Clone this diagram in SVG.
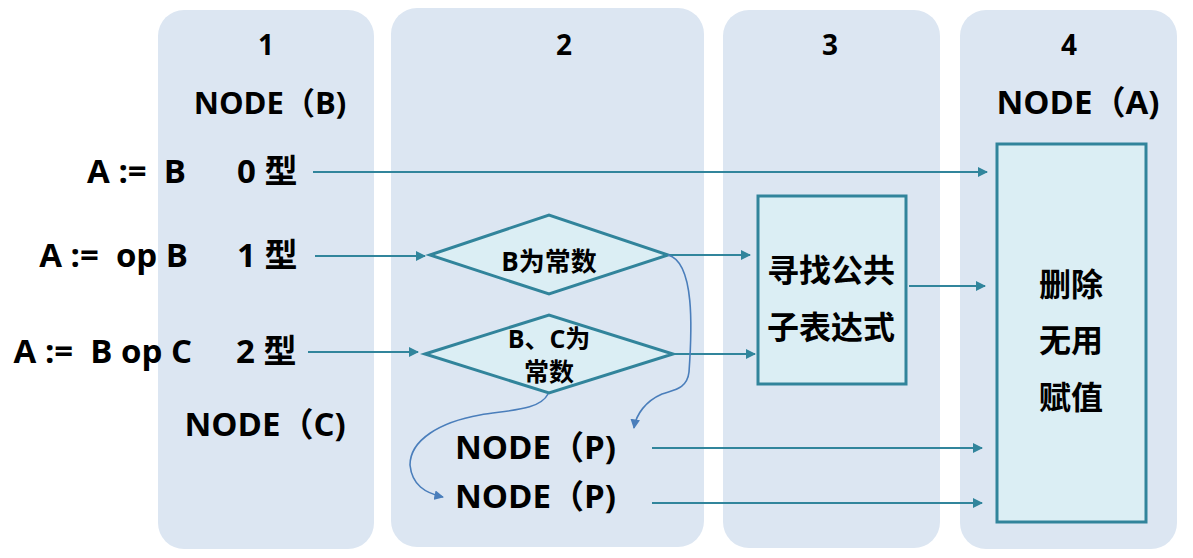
<svg xmlns="http://www.w3.org/2000/svg" width="1193" height="558" viewBox="0 0 1193 558">
<defs>
<style>
.col{fill:#dce6f2;}
.box{fill:#dbeef4;stroke:#31849b;stroke-width:3;}
.t{font-family:"Open Sans","Noto Sans CJK SC",sans-serif;font-weight:bold;fill:#000;white-space:pre;}
.c{text-anchor:middle;}
.e{text-anchor:end;}
.ln{stroke:#31859c;stroke-width:2;fill:none;marker-end:url(#ah);}
.cv{stroke:#4a7ebb;stroke-width:1.6;fill:none;marker-end:url(#ah2);}
</style>
<marker id="ah" viewBox="0 0 10 10" refX="9" refY="5" markerWidth="5" markerHeight="5" orient="auto"><path d="M0,0 L10,5 L0,10 z" fill="#31859c"/></marker>
<marker id="ah2" viewBox="0 0 10 10" refX="9" refY="5" markerWidth="6" markerHeight="6" orient="auto"><path d="M0,0 L10,5 L0,10 z" fill="#4a7ebb"/></marker>
</defs>
<rect width="1193" height="558" fill="#fff"/>
<g id="col1"><rect class="col" x="158" y="10" width="216" height="539" rx="26"/>
<text class="t c" x="266" y="55" font-size="28">1</text>
<text class="t c" x="270" y="114" font-size="31">NODE（B)</text>
<text class="t c" x="265" y="436" font-size="33">NODE（C)</text></g>
<g id="col2"><rect class="col" x="391" y="8" width="313" height="539" rx="26"/>
<text class="t c" x="564" y="55" font-size="28">2</text></g>
<g id="col3"><rect class="col" x="723" y="10" width="217" height="538" rx="26"/>
<text class="t c" x="830" y="55" font-size="28">3</text></g>
<g id="col4"><rect class="col" x="960" y="10" width="217" height="539" rx="26"/>
<text class="t c" x="1069" y="55" font-size="28">4</text>
<text class="t c" x="1078" y="114" font-size="33">NODE（A)</text></g>
<g id="labels">
<text class="t e" x="186" y="183" font-size="33">A :=  B</text>
<text class="t" x="237" y="183" font-size="33">0 型</text>
<text class="t e" x="188" y="267" font-size="33">A :=  op B</text>
<text class="t" x="237" y="267" font-size="33">1 型</text>
<text class="t e" x="192" y="363" font-size="33">A :=  B op C</text>
<text class="t" x="236" y="363" font-size="33">2 型</text>
</g>
<g id="d1"><polygon class="box" points="430,255 549,215 668,255 549,294"/>
<text class="t c" x="549" y="271" font-size="26">B为常数</text></g>
<g id="d2"><polygon class="box" points="425,354 549,315 673,354 549,393"/>
<text class="t c" x="549" y="348" font-size="25">B、C为</text>
<text class="t c" x="549" y="381" font-size="25">常数</text></g>
<g id="p1"><text class="t" x="455" y="459" font-size="33">NODE（P)</text></g>
<g id="p2"><text class="t" x="455" y="508" font-size="33">NODE（P)</text></g>
<g id="cse"><rect class="box" x="758" y="196" width="148" height="188"/>
<text class="t c" x="831" y="282" font-size="32">寻找公共</text>
<text class="t c" x="831" y="339" font-size="32">子表达式</text></g>
<g id="del"><rect class="box" x="997" y="144" width="149" height="378"/>
<text class="t c" x="1071" y="296" font-size="32">删除</text>
<text class="t c" x="1071" y="352" font-size="32">无用</text>
<text class="t c" x="1071" y="409" font-size="32">赋值</text></g>
<g id="connectors">
<path class="ln" d="M313,172 H987"/>
<path class="ln" d="M315,256 H425"/>
<path class="ln" d="M308,352 H418"/>
<path class="ln" d="M668,255 H750"/>
<path class="ln" d="M673,354 H755"/>
<path class="ln" d="M909,286 H985"/>
<path class="ln" d="M652,448 H982"/>
<path class="ln" d="M652,503 H982"/>
<path class="cv" d="M668,255 C695,262 692,330 689,372 C687,390 672,390 662,394 C646,401 636,414 634,428"/>
<path class="cv" d="M548,394 C540,410 510,410 480,415 C440,422 410,440 410,465 C412,485 425,493 443,497"/>
</g>
</svg>
